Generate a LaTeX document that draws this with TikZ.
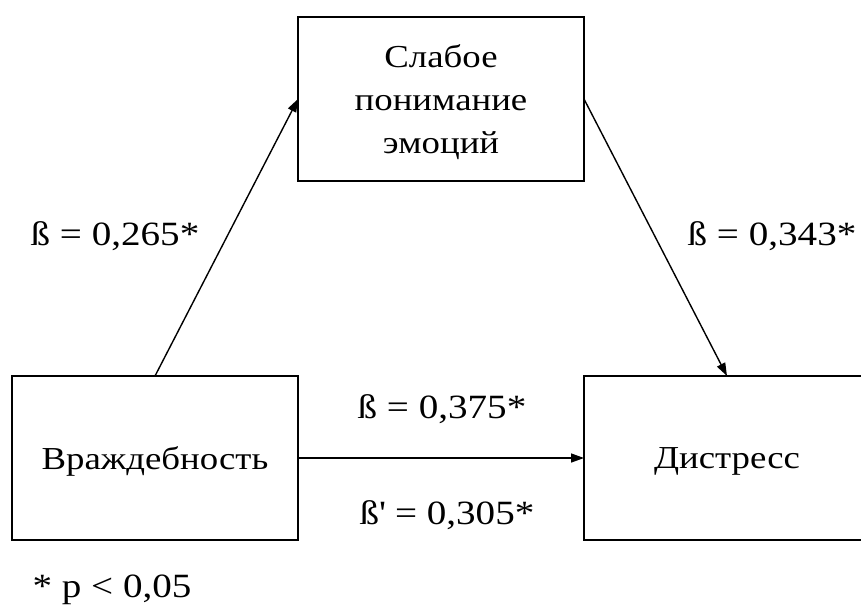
\documentclass[tikz,border=0pt]{standalone}
\usepackage{fontspec}
\setmainfont[FakeStretch=1.15]{Liberation Serif}
\usetikzlibrary{positioning,arrows.meta}

\begin{document}
\begin{tikzpicture}[
    x=1pt, y=1pt,
    box/.style={rectangle, draw, line width=1.8pt, outer sep=0pt, inner sep=0pt, minimum width=286pt, minimum height=164pt, text depth=-5pt, align=center, font=\fontsize{32}{43}\selectfont},
    coef/.style={anchor=base, font=\fontsize{34}{40}\selectfont},
    arrow/.style={-{Triangle[length=13pt,width=9pt]}, line width=1.4pt}
]
\path[use as bounding box, clip] (0,0) rectangle (861,-606);

% Boxes
\node[box] (hostility) at (155,-458) {Враждебность};
\node[box, text depth=-14pt, above right=195pt and 0pt of hostility] (emotion) {Слабое\\понимание\\эмоций};
\node[box, below right=195pt and 0pt of emotion] (distress) {Дистресс};

% Arrows
\draw[arrow] (hostility.north) -- (emotion.west);
\draw[arrow] (emotion.east) -- (distress.north);
\draw[arrow] (hostility.east) -- (distress.west);

% Labels
\node[coef] (b1) at (115,-245) {ß = 0,265*};
\node[coef] (b2) at (772,-245) {ß = 0,343*};
\node[coef] (b3) at (442,-418) {ß = 0,375*};
\node[coef] (b4) at (447,-524) {ß\textquotesingle{} = 0,305*};
\node[coef] (note) at (112,-597) {* p < 0,05};

\end{tikzpicture}
\end{document}
